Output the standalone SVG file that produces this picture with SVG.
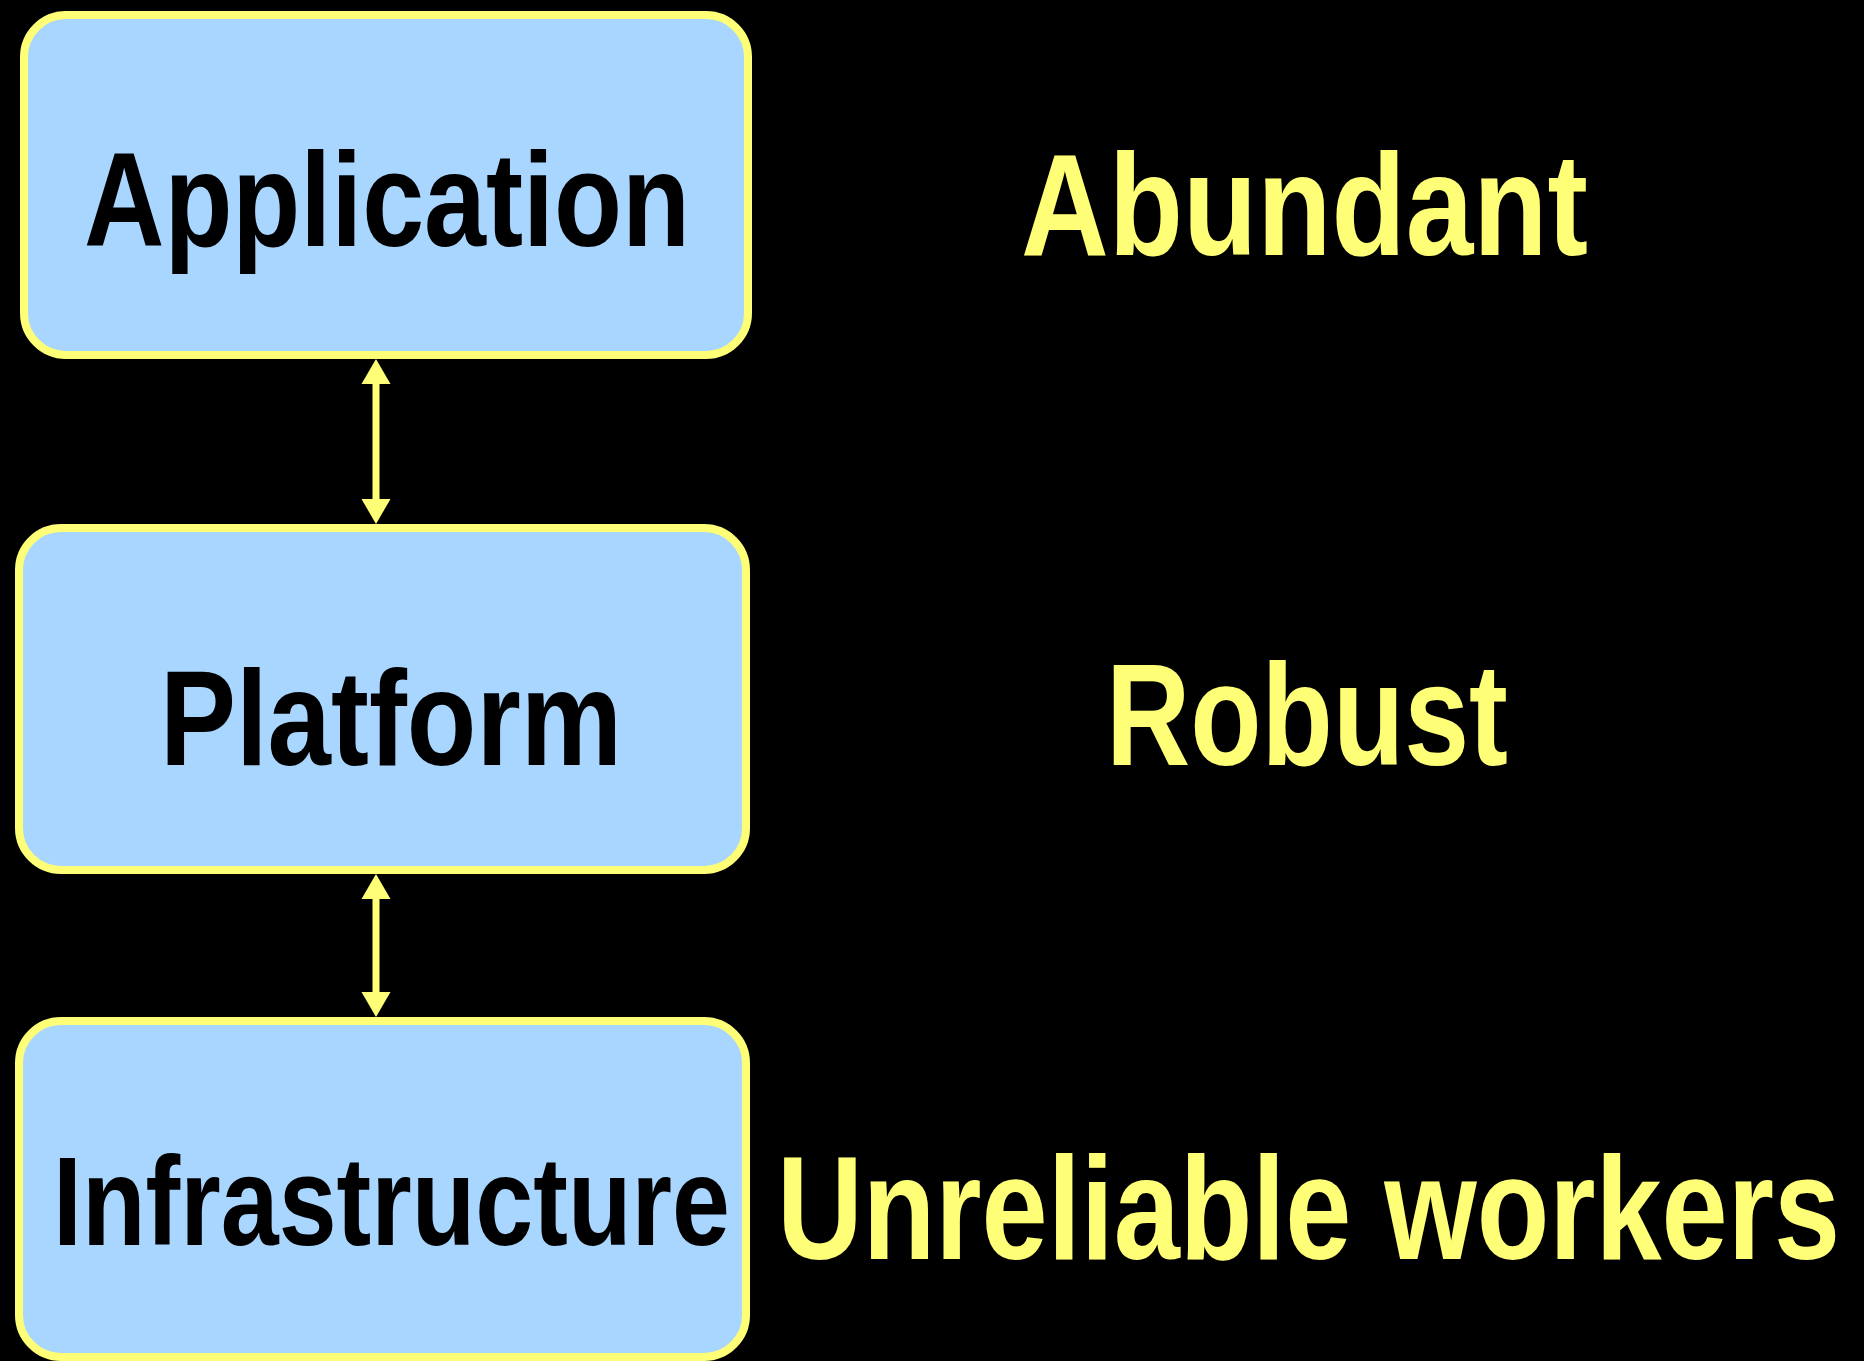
<svg xmlns="http://www.w3.org/2000/svg" width="1864" height="1361" viewBox="0 0 1864 1361">
<style>
.box{fill:#A8D6FF;stroke:#FFFF77;stroke-width:8}
.lbl{font-family:"Liberation Sans Narrow","Liberation Sans","DejaVu Sans Condensed",sans-serif;font-weight:bold;fill:#000}
.side{font-family:"Liberation Sans Narrow","Liberation Sans","DejaVu Sans Condensed",sans-serif;font-weight:bold;fill:#FFFF77}
.conn{stroke:#FFFF77;stroke-width:7;fill:none}
</style>
<defs>
<marker id="ah" markerUnits="userSpaceOnUse" markerWidth="30" markerHeight="32" viewBox="0 -16 30 32" refX="0" refY="0" orient="auto-start-reverse">
<path d="M0,-14.5 L25,0 L0,14.5 z" fill="#FFFF77"/>
</marker>
</defs>
<rect width="1864" height="1361" fill="#000"/>
<g id="connectors">
<line class="conn" x1="376" y1="384" x2="376" y2="499" marker-start="url(#ah)" marker-end="url(#ah)"/>
<line class="conn" x1="376" y1="899" x2="376" y2="992" marker-start="url(#ah)" marker-end="url(#ah)"/>
</g>
<g id="application">
<rect class="box" x="24" y="15" width="724" height="340" rx="42"/>
<text class="lbl" x="84" y="246" font-size="134" textLength="606" lengthAdjust="spacingAndGlyphs">Application</text>
</g>
<g id="platform">
<rect class="box" x="19" y="528" width="727" height="342" rx="42"/>
<text class="lbl" x="160" y="765" font-size="135" textLength="462" lengthAdjust="spacingAndGlyphs">Platform</text>
</g>
<g id="infrastructure">
<rect class="box" x="19" y="1021" width="727" height="336" rx="42"/>
<text class="lbl" x="53" y="1245" font-size="126" textLength="677" lengthAdjust="spacingAndGlyphs">Infrastructure</text>
</g>
<g id="labels">
<text class="side" x="1021" y="255" font-size="145" textLength="567" lengthAdjust="spacingAndGlyphs">Abundant</text>
<text class="side" x="1106" y="765" font-size="144" textLength="402" lengthAdjust="spacingAndGlyphs">Robust</text>
<text class="side" x="777" y="1259" font-size="147" textLength="1063" lengthAdjust="spacingAndGlyphs">Unreliable workers</text>
</g>
</svg>
